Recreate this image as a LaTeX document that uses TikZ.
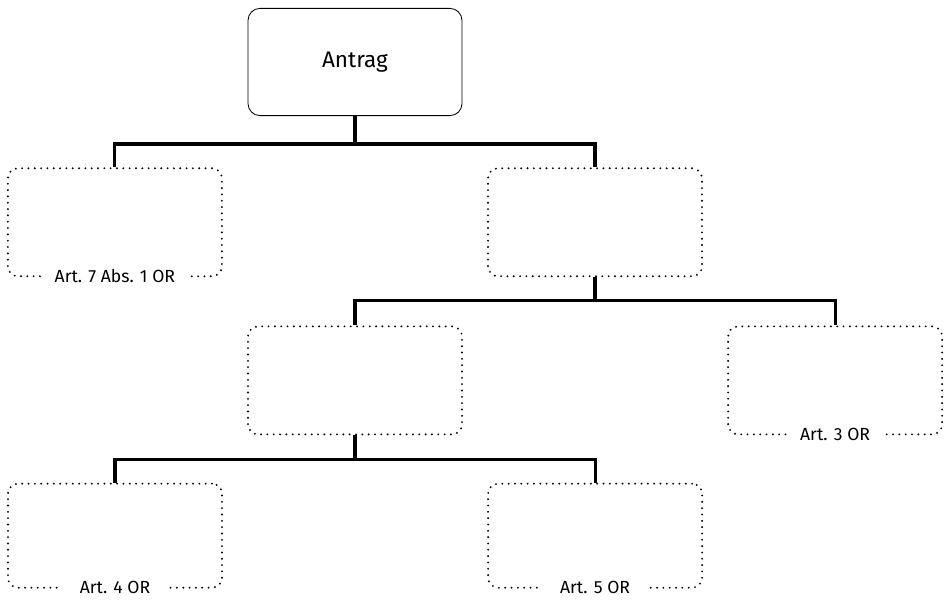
\documentclass[tikz,border=0pt]{standalone}
\usepackage{fontspec}
\setmainfont{Fira Sans}
\usepackage{tikz}
\usetikzlibrary{positioning}

\tikzset{
  haupt/.style={draw, line width=0.6pt, rounded corners=0.3cm,
    minimum width=5.35cm, minimum height=2.68cm,
    font=\fontsize{16}{19}\selectfont},
  feld/.style={draw, line width=1.5pt, line cap=round,
    dash pattern=on 0pt off 4.5pt, rounded corners=0.25cm,
    minimum width=5.35cm, minimum height=2.7cm},
  artikel/.style={fill=white, inner xsep=0.3cm, inner ysep=1pt,
    yshift=0.03cm, font=\fontsize{12.5}{15}\selectfont},
  ast/.style={line width=2.2pt}
}

\begin{document}
\begin{tikzpicture}
\useasboundingbox (-8.875,-13.5) rectangle (14.8,1.55);

\node[haupt] (antrag) at (0,0) {Antrag};

% erste Ebene
\node[feld] (b) [below=1.28cm of antrag, xshift=6cm] {};
\node[feld] (a) [left=6.6cm of b] {};

% zweite Ebene
\node[feld] (c) [below=1.2cm of b, xshift=-6cm] {};
\node[feld] (d) [right=6.6cm of c] {};

% dritte Ebene
\node[feld, minimum height=2.6cm] (e) [below=1.18cm of c, xshift=-6cm] {};
\node[feld, minimum height=2.6cm] (f) [right=6.6cm of e] {};

\node[artikel] (la) at (a.south) {Art. 7 Abs. 1 OR};
\node[artikel] (ld) at (d.south) {Art. 3 OR};
\node[artikel, inner xsep=0.45cm] (le) at (e.south) {Art. 4 OR};
\node[artikel, inner xsep=0.45cm] (lf) at (f.south) {Art. 5 OR};

\draw[ast] (antrag.south) -- ++(0,-0.7) -| (a.north);
\draw[ast] (antrag.south) -- ++(0,-0.7) -| (b.north);
\draw[ast] (b.south) -- ++(0,-0.58) -| (c.north);
\draw[ast] (b.south) -- ++(0,-0.58) -| (d.north);
\draw[ast] (c.south) -- ++(0,-0.6) -| (e.north);
\draw[ast] (c.south) -- ++(0,-0.6) -| (f.north);

\end{tikzpicture}
\end{document}
